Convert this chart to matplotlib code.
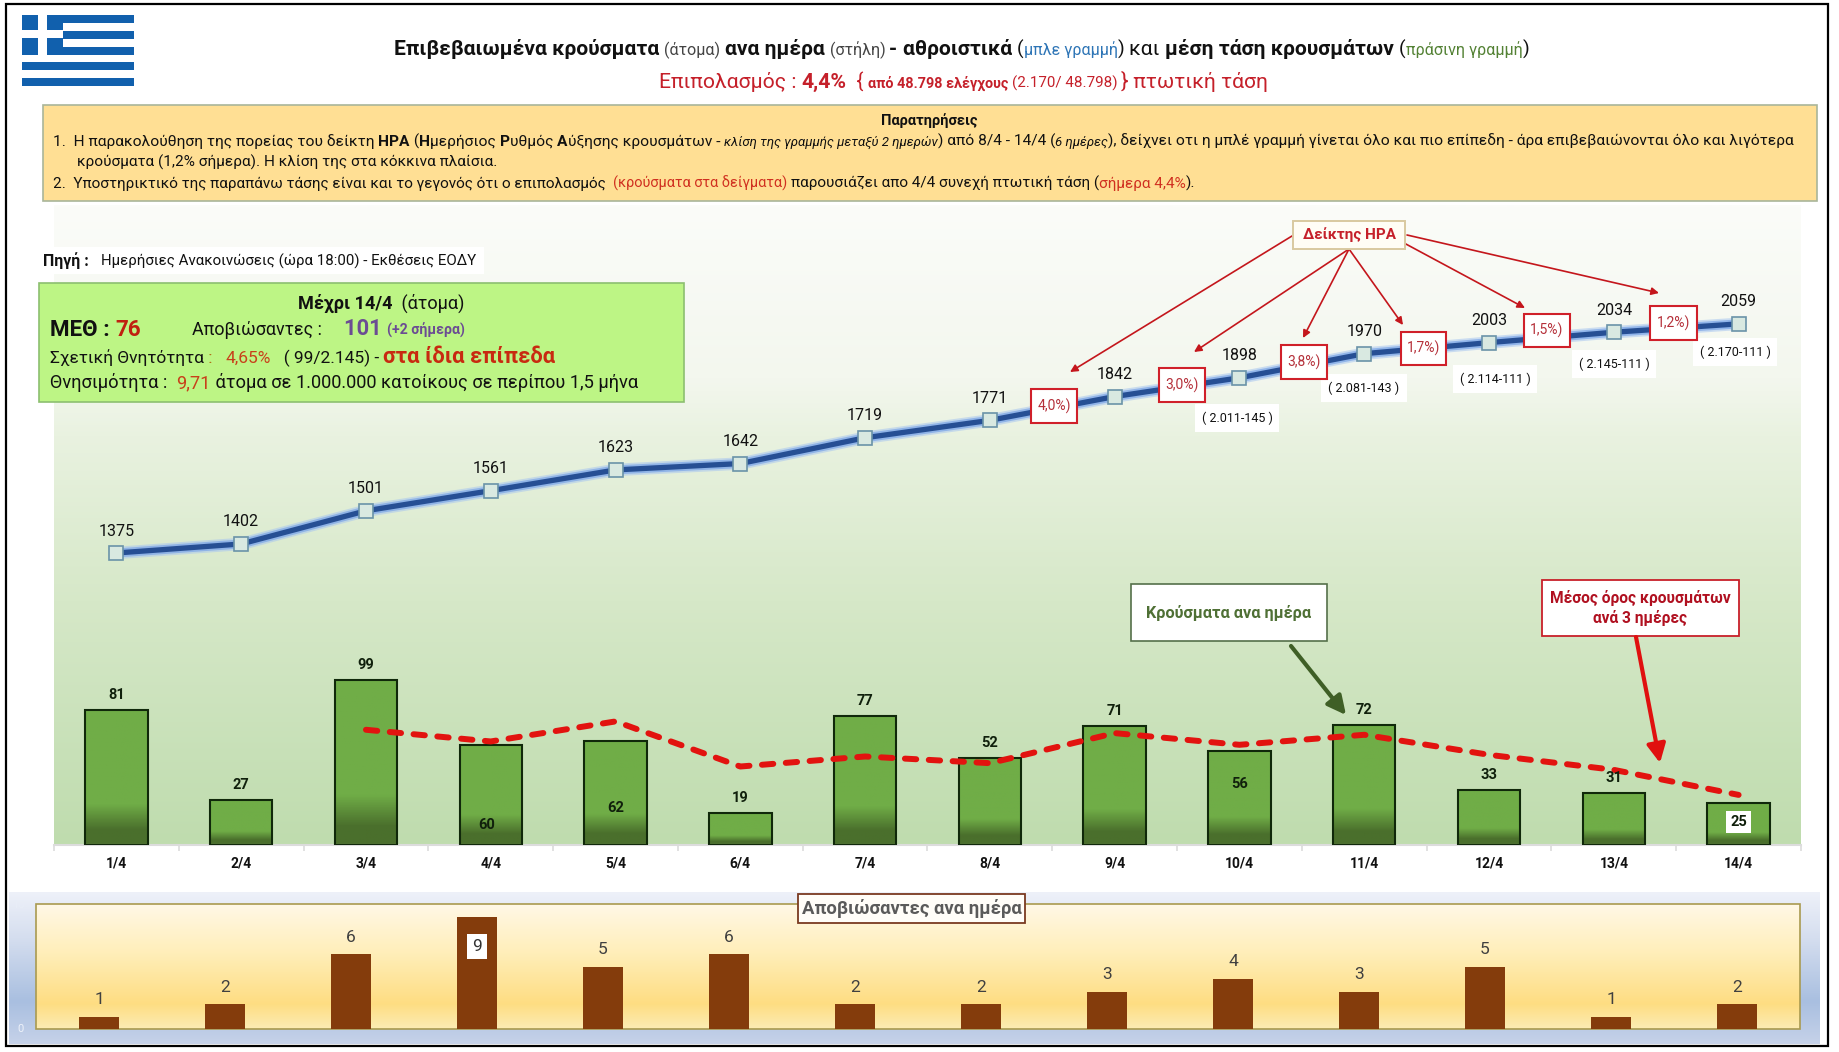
import numpy as np
import matplotlib
matplotlib.use("Agg")
import matplotlib.pyplot as plt
from matplotlib.colors import LinearSegmentedColormap, to_rgb
from matplotlib.patches import Rectangle

plt.rcParams['font.family'] = ['Roboto', 'DejaVu Sans']

W, H = 1840, 1052

dates = ['1/4', '2/4', '3/4', '4/4', '5/4', '6/4', '7/4', '8/4', '9/4', '10/4', '11/4', '12/4', '13/4', '14/4']
daily = [81, 27, 99, 60, 62, 19, 77, 52, 71, 56, 72, 33, 31, 25]
cumulative = [1375, 1402, 1501, 1561, 1623, 1642, 1719, 1771, 1842, 1898, 1970, 2003, 2034, 2059]
avg_dates = dates[2:]
avg3 = [69, 62, 74, 47, 53, 49, 67, 60, 66, 54, 45, 30]
deaths = [1, 2, 6, 9, 5, 6, 2, 2, 3, 4, 3, 5, 1, 2]

hra_labels = ['4,0%)', '3,0%)', '3,8%)', '1,7%)', '1,5%)', '1,2%)']
hra_boxes = [(1031, 389, 1077, 423), (1159, 368, 1205, 402), (1281, 345, 1327, 379),
             (1401, 332, 1446, 365), (1524, 314, 1570, 347), (1650, 306, 1697, 340)]
hra_arrows = [((1292, 236), (1070, 372)), ((1349, 249), (1194, 352)), ((1349, 249), (1303, 338)),
              ((1349, 249), (1403, 325)), ((1404, 243), (1525, 308)), ((1407, 235), (1659, 293))]
sub_labels = [('( 2.011-145 )', 1237, 418), ('( 2.081-143 )', 1364, 388), ('( 2.114-111 )', 1495, 379),
              ('( 2.145-111 )', 1614, 364), ('( 2.170-111 )', 1735, 352)]

fig = plt.figure(figsize=(W / 100, H / 100), dpi=100, facecolor='white')


def axes_px(l, t, r, b, z):
    a = fig.add_axes([l / W, 1 - b / H, (r - l) / W, (b - t) / H], zorder=z)
    return a


def vgrad(stops, n=400):
    cm = LinearSegmentedColormap.from_list('g', stops)
    return cm(np.linspace(0, 1, n))[:, None, :]


# ---------- background layer in pixel coordinates
bg = axes_px(0, 0, W, H, 0)
bg.set_xlim(0, W)
bg.set_ylim(H, 0)
bg.axis('off')
bg.add_patch(Rectangle((6, 4), 1822, 1042, fc='white', ec='black', lw=1.6))

# main plot background
bg.imshow(vgrad([(0, '#fbfcf9'), (0.27, '#f3f7ee'), (0.36, '#e9f2e0'), (0.62, '#d6e8c8'), (1, '#bfdcae')]),
          extent=[54, 1801, 845, 205], aspect='auto', zorder=1)
# lower panel background
bg.imshow(vgrad([(0, '#eef1f9'), (0.3, '#d5deef'), (0.72, '#a9bfe0'), (1, '#c6d2e9')]),
          extent=[9, 1820, 1044, 892], aspect='auto', zorder=1)
bg.imshow(vgrad([(0, '#fff8e6'), (0.4, '#ffeeb8'), (0.8, '#fedd82'), (1, '#fcecb4')]),
          extent=[36, 1800, 1029, 904], aspect='auto', zorder=2)
bg.add_patch(Rectangle((36, 904), 1764, 125, fc='none', ec='#a99a50', lw=1.2, zorder=3))
bg.set_xlim(0, W)
bg.set_ylim(H, 0)

# flag
flag_blue = '#1160ad'
for k in range(0, 9, 2):
    bg.add_patch(Rectangle((22, 15 + k * 7.9), 112, 7.9, fc=flag_blue, ec='none', zorder=2))
bg.add_patch(Rectangle((22, 15), 41, 39.5, fc=flag_blue, ec='none', zorder=3))
bg.add_patch(Rectangle((38, 15), 9, 39.5, fc='white', ec='none', zorder=4))
bg.add_patch(Rectangle((22, 30), 41, 8, fc='white', ec='none', zorder=4))

# ---------- daily bars
ax = axes_px(54, 205, 1801, 845, 1)
ax.patch.set_alpha(0)
xs = np.arange(len(dates))
ax.set_xlim(-0.5, 13.5)
ax.set_ylim(0, 640 / 1.67)
bars = ax.bar(xs, daily, width=0.5, color='#70ad47', zorder=1)
g_dark = np.array(to_rgb('#4a6f2c'))
g_lite = np.array(to_rgb('#70ad47'))
for b in bars:
    x0, w, h = b.get_x(), b.get_width(), b.get_height()
    f = np.linspace(0, 1, 100)
    t = np.clip((f - 0.11) / 0.19, 0, 1)[:, None]
    img = (g_dark * (1 - t) + g_lite * t)[::-1, None, :]
    ax.imshow(img, extent=[x0, x0 + w, 0, h], aspect='auto', zorder=2)
ax.bar(xs, daily, width=0.5, facecolor='none', edgecolor='#10280a', linewidth=1.5, zorder=3)
ax.set_xlim(-0.5, 13.5)
ax.set_ylim(0, 640 / 1.67)
for s in ('top', 'left', 'right'):
    ax.spines[s].set_visible(False)
ax.spines['bottom'].set_color('#dcdcdc')
ax.spines['bottom'].set_linewidth(1.5)
ax.set_yticks([])
ax.set_xticks(xs)
ax.set_xticklabels(dates, fontsize=10, fontweight='bold', color='#111111')
ax.set_xticks(np.arange(-0.5, 14), minor=True)
ax.tick_params(axis='x', which='major', length=0, pad=8.6)
ax.tick_params(axis='x', which='minor', length=4, color='#dcdcdc', width=1.2)

ax.plot(xs[2:], avg3, color='#e2130f', lw=4.3, dashes=(1.9, 2.1), dash_capstyle='round', zorder=5)

bar_offsets = {3: (-4, -80), 4: (0, -67), 9: (0, -33), 13: (0, -19)}
for i, v in enumerate(daily):
    dx, dy = bar_offsets.get(i, (0, 15))
    kw = {}
    if i == 13:
        kw['bbox'] = dict(fc='white', ec='none', pad=3)
    ax.annotate(str(v), (i, v), xytext=(dx, dy), textcoords='offset pixels', ha='center', va='center',
                fontsize=10.5, fontweight='bold', color='#10200c', zorder=6, **kw)

# ---------- cumulative line
lx = axes_px(54, 205, 1801, 845, 2)
lx.patch.set_alpha(0)
lx.axis('off')
lx.set_xlim(-0.5, 13.5)
lx.set_ylim(1375 - 292 / 0.335, 1375 + 348 / 0.335)
lx.plot(xs, cumulative, color='#a8c6f0', lw=9, alpha=0.55, solid_capstyle='butt')
lx.plot(xs, cumulative, color='#7fa8e8', lw=6.5, alpha=0.75, solid_capstyle='butt')
lx.plot(xs, cumulative, color='#264f94', lw=3.8, marker='s', ms=9.4, mfc='#d9e9e1', mec='#6a93a8', mew=1.2)
for i, v in enumerate(cumulative):
    lx.annotate(str(v), (i, v), xytext=(0, 22), textcoords='offset pixels', ha='center', va='center',
                fontsize=11.5, color='#111111')

# ---------- deaths bars
dx_ax = axes_px(36, 904, 1800, 1029, 1)
dx_ax.patch.set_alpha(0)
dx_ax.set_xlim(-0.5, 13.5)
dx_ax.set_ylim(0, 10)
dx_ax.bar(xs, deaths, width=0.31, color='#843c0c')
dx_ax.axis('off')
for i, v in enumerate(deaths):
    if v == 9:
        dx_ax.annotate(str(v), (i, v), xytext=(0, -30), textcoords='offset pixels', ha='center', va='center',
                       fontsize=12.5, color='#333333', bbox=dict(fc='white', ec='none', pad=3.5))
    else:
        dx_ax.annotate(str(v), (i, v), xytext=(0, 17), textcoords='offset pixels', ha='center', va='center',
                       fontsize=12.5, color='#404040')

# ---------- overlay for text and callouts
ov = axes_px(0, 0, W, H, 5)
ov.patch.set_alpha(0)
ov.axis('off')
ov.set_xlim(0, W)
ov.set_ylim(H, 0)
fig.canvas.draw()
rend = fig.canvas.get_renderer()


def measure(s, kw):
    a = ov.text(0, 500, '|' + s + '|', **kw)
    b = ov.text(0, 500, '||', **kw)
    w = a.get_window_extent(rend).width - b.get_window_extent(rend).width
    a.remove()
    b.remove()
    return w


def rich(x, y, pieces, width=None, ha='left'):
    """x, y = baseline position; pieces = (text, size, options)."""
    base = [(s, dict(fontsize=z, **o)) for s, z, o in pieces]
    total = sum(measure(s, k) for s, k in base)
    if width:
        scale = width / total
        base = [(s, {**k, 'fontsize': k['fontsize'] * scale}) for s, k in base]
        total = width
    if ha == 'center':
        x = x - total / 2
    for s, k in base:
        w = measure(s, k)
        ov.text(x, y, s, ha='left', va='baseline', **k)
        x += w


RED = '#c5202a'
BK = '#111111'
B = dict(fontweight='bold', color=BK)
N = dict(color=BK)
rich(394, 55, [('Επιβεβαιωμένα κρούσματα ', 13, B), ('(άτομα) ', 10, dict(color='#444444')),
               ('ανα ημέρα ', 13, B), ('(στήλη) ', 10, dict(color='#444444')), ('- ', 13, B),
               ('αθροιστικά ', 13, B), ('(', 12, N), ('μπλε γραμμή', 10, dict(color='#2e75b6')), (') ', 12, N),
               ('και ', 13, N), ('μέση τάση κρουσμάτων ', 13, B), ('(', 12, N),
               ('πράσινη γραμμή', 10, dict(color='#548235')), (')', 12, N)], width=1135)
rich(659, 88, [('Επιπολασμός : ', 14, dict(color=RED)), ('4,4%', 14, dict(color=RED, fontweight='bold')),
               ('  { ', 13, dict(color=RED)), ('από 48.798 ελέγχους ', 9.5, dict(color=RED, fontweight='bold')),
               ('(2.170/ 48.798) ', 10, dict(color=RED)), ('} πτωτική τάση', 14, dict(color=RED))], width=612)

# yellow notes box
ov.add_patch(Rectangle((43, 105), 1774, 96, fc='#ffdf94', ec='#a9b59a', lw=1.2, zorder=0))
rich(929, 125, [('Παρατηρήσεις', 10.5, B)], ha='center')
rich(53, 146, [('1.  Η παρακολούθηση της πορείας του δείκτη ', 10.5, N), ('ΗΡΑ', 10.5, B), (' (', 10.5, N), ('Η', 10.5, B),
               ('μερήσιος ', 10.5, N), ('Ρ', 10.5, B), ('υθμός ', 10.5, N), ('Α', 10.5, B),
               ('ύξησης κρουσμάτων - ', 10.5, N), ('κλίση της γραμμής μεταξύ 2 ημερών', 9, dict(color=BK, style='italic')),
               (') από 8/4 - 14/4 (', 10.5, N), ('6 ημέρες', 9, dict(color=BK, style='italic')),
               ('), δείχνει οτι η μπλέ γραμμή γίνεται όλο και πιο επίπεδη - άρα επιβεβαιώνονται όλο και λιγότερα', 10.5, N)],
     width=1740)
rich(77, 167, [('κρούσματα (1,2% σήμερα). Η κλίση της στα κόκκινα πλαίσια.', 10.5, N)], width=422)
rich(53, 188, [('2.  Υποστηρικτικό της παραπάνω τάσης είναι και το γεγονός ότι ο επιπολασμός  ', 10.5, N),
               ('(κρούσματα στα δείγματα) ', 10, dict(color='#d03020')),
               ('παρουσιάζει απο 4/4 συνεχή πτωτική τάση (', 10.5, N), ('σήμερα 4,4%', 10.5, dict(color='#d03020')),
               (').', 10.5, N)], width=1144)

# source
ov.add_patch(Rectangle((40, 247), 444, 27, fc='white', ec='none', zorder=0))
rich(43, 266, [('Πηγή :   ', 10.5, B), ('Ημερήσιες Ανακοινώσεις (ώρα 18:00) - Εκθέσεις ΕΟΔΥ', 10, N)], width=433)

# green summary box
ov.add_patch(Rectangle((39, 283), 645, 119, fc='#bdf585', ec='#8cbf70', lw=1.2, zorder=0))
PUR = '#6b4c93'
rich(298, 309, [('Μέχρι 14/4 ', 11, B), (' (άτομα)', 11, N)], width=166)
rich(50, 336, [('ΜΕΘ : ', 14, B), ('76', 14, dict(color='#c02010', fontweight='bold'))], width=91)
rich(192, 335, [('Αποβιώσαντες :', 11, N)], width=130)
rich(344, 335, [('101 ', 14, dict(color=PUR, fontweight='bold')),
                ('(+2 σήμερα)', 9, dict(color=PUR, fontweight='bold'))], width=121)
rich(50, 363, [('Σχετική Θνητότητα', 11, N), (' :   ', 11, dict(color='#b06a10')), ('4,65%', 11, dict(color='#c8401a')),
               ('   ( 99/2.145) - ', 11, N), ('στα ίδια επίπεδα', 14, dict(color='#c82a10', fontweight='bold'))], width=506)
rich(50, 388, [('Θνησιμότητα :  ', 11, N), ('9,71', 11, dict(color='#c8401a')),
               (' άτομα σε 1.000.000 κατοίκους σε περίπου 1,5 μήνα', 11, N)], width=588)

# HRA callouts
ARW = '#c4161c'
for (p0, p1) in hra_arrows:
    ov.annotate('', xy=p1, xytext=p0,
                arrowprops=dict(arrowstyle='-|>', color=ARW, lw=1.2, mutation_scale=11, shrinkA=0, shrinkB=0))
ov.add_patch(Rectangle((1293.5, 221), 112, 28, fc='#fffdf5', ec='#d9c9a0', lw=1.4, zorder=3))
ov.text(1349.5, 235, 'Δείκτης ΗΡΑ', ha='center', va='center', fontsize=11, fontweight='bold', color=RED, zorder=4)
for lab, (x0, y0, x1, y1) in zip(hra_labels, hra_boxes):
    ov.add_patch(Rectangle((x0, y0), x1 - x0, y1 - y0, fc='white', ec='#d0202a', lw=1.5, zorder=3))
    ov.text((x0 + x1) / 2, (y0 + y1) / 2, lab, ha='center', va='center', fontsize=10, color='#b5303a', zorder=4)
for s, x, y in sub_labels:
    ov.text(x, y, s, ha='center', va='center', fontsize=9, color=BK,
            bbox=dict(fc='white', ec='none', pad=5), zorder=2)

# daily callout
ov.add_patch(Rectangle((1131, 584), 196, 57, fc='white', ec='#55704a', lw=1.2, zorder=3))
ov.text(1229, 613, 'Κρούσματα ανα ημέρα', ha='center', va='center', fontsize=11.7, fontweight='bold',
        color='#4f7035', zorder=4)
ov.annotate('', xy=(1346, 715), xytext=(1291, 646),
            arrowprops=dict(arrowstyle='-|>,head_width=0.4,head_length=0.8', color='#3f5f26', lw=3,
                            mutation_scale=14, shrinkA=0, shrinkB=0))

# average callout
ov.add_patch(Rectangle((1542, 580), 197, 56, fc='white', ec='#c8202a', lw=1.3, zorder=3))
ov.text(1640, 608, 'Μέσος όρος κρουσμάτων\nανά 3 ημέρες', ha='center', va='center', fontsize=11.2,
        fontweight='bold', color='#b01020', linespacing=1.35, zorder=4)
ov.annotate('', xy=(1660, 763), xytext=(1636, 637),
            arrowprops=dict(arrowstyle='-|>,head_width=0.4,head_length=0.8', color='#e0100f', lw=3,
                            mutation_scale=14, shrinkA=0, shrinkB=0))

# lower panel title and faint axis labels
ov.add_patch(Rectangle((798, 894), 227, 29, fc='#fffdf8', ec='#7a3a20', lw=1.3, zorder=3))
ov.text(911.5, 909, 'Αποβιώσαντες ανα ημέρα', ha='center', va='center', fontsize=13.3, fontweight='bold',
        color='#5a5a5a', zorder=4)
ov.text(18, 905, '10', ha='center', va='center', fontsize=8, color='#e8edf7')
ov.text(21, 1029, '0', ha='center', va='center', fontsize=8, color='#eef2fa')

fig.savefig('out.png', dpi=100)
